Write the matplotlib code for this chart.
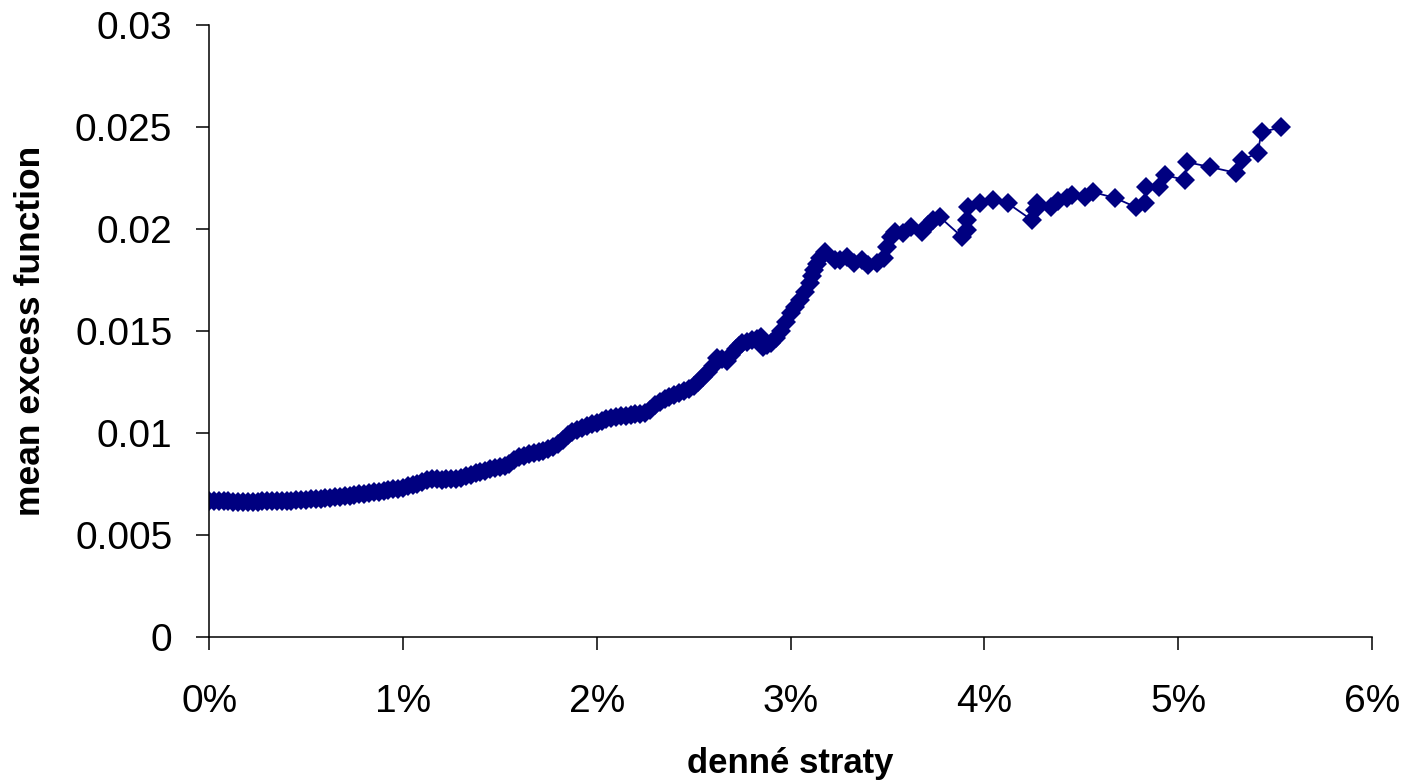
import matplotlib
matplotlib.use("Agg")
import matplotlib.pyplot as plt
from matplotlib.ticker import FuncFormatter

plt.rcParams['font.family'] = ['Liberation Sans', 'DejaVu Sans']

# daily losses (in %) and the mean excess function above each threshold
loss_pct = [
    0.000, 0.025, 0.050, 0.075, 0.100, 0.125, 0.150, 0.175, 0.200, 0.225,
    0.250, 0.275, 0.300, 0.325, 0.350, 0.375, 0.400, 0.425, 0.450, 0.475,
    0.500, 0.525, 0.550, 0.575, 0.600, 0.625, 0.650, 0.675, 0.700, 0.725,
    0.750, 0.775, 0.800, 0.825, 0.850, 0.875, 0.900, 0.925, 0.950, 0.975,
    1.000, 1.025, 1.050, 1.075, 1.100, 1.125, 1.150, 1.175, 1.200, 1.225,
    1.250, 1.275, 1.300, 1.325, 1.350, 1.375, 1.400, 1.425, 1.450, 1.475,
    1.500, 1.525, 1.550, 1.575, 1.600, 1.625, 1.650, 1.675, 1.700, 1.725,
    1.750, 1.775, 1.800, 1.825, 1.850, 1.875, 1.900, 1.925, 1.950, 1.975,
    2.000, 2.025, 2.050, 2.075, 2.100, 2.125, 2.150, 2.175, 2.200, 2.225,
    2.250, 2.275, 2.300, 2.325, 2.350, 2.375, 2.400, 2.425, 2.450, 2.475,
    2.500, 2.525, 2.550, 2.575, 2.600, 2.620, 2.645, 2.670, 2.695, 2.720,
    2.735, 2.750, 2.775, 2.800, 2.825, 2.850, 2.860, 2.880, 2.900, 2.925,
    2.950, 2.975, 3.000, 3.025, 3.050, 3.075, 3.100, 3.110, 3.120, 3.135,
    3.150, 3.180, 3.230, 3.255,
    3.29, 3.33, 3.37, 3.40, 3.445, 3.48, 3.50, 3.52, 3.54, 3.58,
    3.62, 3.68, 3.71, 3.735, 3.77, 3.885, 3.91, 3.912, 3.915, 3.98,
    4.045, 4.12, 4.245, 4.26, 4.27, 4.345, 4.378, 4.425, 4.45, 4.52,
    4.56, 4.675, 4.78, 4.83, 4.832, 4.90, 4.93, 5.035, 5.045, 5.165,
    5.30, 5.33, 5.41, 5.43, 5.53,
]
mef = [
    0.00668, 0.00666, 0.00665, 0.00667, 0.00666, 0.00664, 0.00663, 0.00662, 0.00663, 0.00663,
    0.00664, 0.00665, 0.00666, 0.00667, 0.00667, 0.00668, 0.00668, 0.00669, 0.00670, 0.00672,
    0.00673, 0.00676, 0.00678, 0.00679, 0.00681, 0.00683, 0.00685, 0.00688, 0.00690, 0.00693,
    0.00696, 0.00699, 0.00702, 0.00706, 0.00710, 0.00713, 0.00716, 0.00720, 0.00724, 0.00728,
    0.00732, 0.00738, 0.00745, 0.00752, 0.00760, 0.00768, 0.00773, 0.00773, 0.00772, 0.00773,
    0.00774, 0.00777, 0.00781, 0.00788, 0.00795, 0.00803, 0.00810, 0.00816, 0.00822, 0.00827,
    0.00833, 0.00840, 0.00850, 0.00866, 0.00880, 0.00889, 0.00895, 0.00900, 0.00905, 0.00912,
    0.00920, 0.00930, 0.00945, 0.00968, 0.00990, 0.01004, 0.01015, 0.01025, 0.01035, 0.01043,
    0.01050, 0.01060, 0.01068, 0.01074, 0.01078, 0.01082, 0.01085, 0.01089, 0.01092, 0.01095,
    0.01098, 0.01115, 0.01135, 0.01152, 0.01165, 0.01176, 0.01185, 0.01195, 0.01205, 0.01217,
    0.01230, 0.01250, 0.01275, 0.01300, 0.01330, 0.01370, 0.01362, 0.01355, 0.01382, 0.01410,
    0.01428, 0.01440, 0.01448, 0.01455, 0.01462, 0.01470, 0.01420, 0.01430, 0.01440, 0.01468,
    0.01500, 0.01545, 0.01590, 0.01620, 0.01650, 0.01690, 0.01735, 0.01768, 0.01800, 0.01830,
    0.01860, 0.01885, 0.01850, 0.01848,
    0.01863, 0.01833, 0.01848, 0.01824, 0.01833, 0.01858, 0.01912, 0.01961, 0.01985, 0.01980,
    0.02010, 0.01985, 0.02020, 0.02044, 0.02059, 0.01961, 0.01995, 0.02044, 0.02108, 0.02127,
    0.02142, 0.02127, 0.02044, 0.02093, 0.02127, 0.02106, 0.02137, 0.02152, 0.02167, 0.02157,
    0.02181, 0.02152, 0.02108, 0.02127, 0.02206, 0.02206, 0.02265, 0.02240, 0.02328, 0.02304,
    0.02275, 0.02338, 0.02373, 0.02475, 0.02498,
]

x_ticks = [0, 1, 2, 3, 4, 5, 6]
y_ticks = [0, 0.005, 0.01, 0.015, 0.02, 0.025, 0.03]
y_tick_labels = ['0', '0.005', '0.01', '0.015', '0.02', '0.025', '0.03']

fig = plt.figure(figsize=(14.05, 7.82), dpi=100)
ax = fig.add_axes([0.1488, 0.1854, 0.8277, 0.7826])

ax.plot(loss_pct, mef, color='#000080', linewidth=1.3,
        marker='D', markersize=10.5, markeredgewidth=0)

ax.set_xlim(0, 6)
ax.set_ylim(0, 0.03)
ax.set_xticks(x_ticks)
ax.xaxis.set_major_formatter(FuncFormatter(lambda v, p: '%d%%' % v))
ax.set_yticks(y_ticks)
ax.set_yticklabels(y_tick_labels)

for side in ['top', 'right']:
    ax.spines[side].set_visible(False)
for side in ['left', 'bottom']:
    ax.spines[side].set_linewidth(1.1)

ax.tick_params(axis='both', direction='out', length=9.5, width=1.1,
               labelsize=28, colors='black')
ax.tick_params(axis='y', pad=17)
ax.tick_params(axis='x', pad=24)

ax.set_xlabel('denné straty', fontsize=25, fontweight='bold', labelpad=20)
ax.set_ylabel('mean excess function', fontsize=25.5, fontweight='bold', labelpad=20)

fig.savefig('out.png', dpi=100)
